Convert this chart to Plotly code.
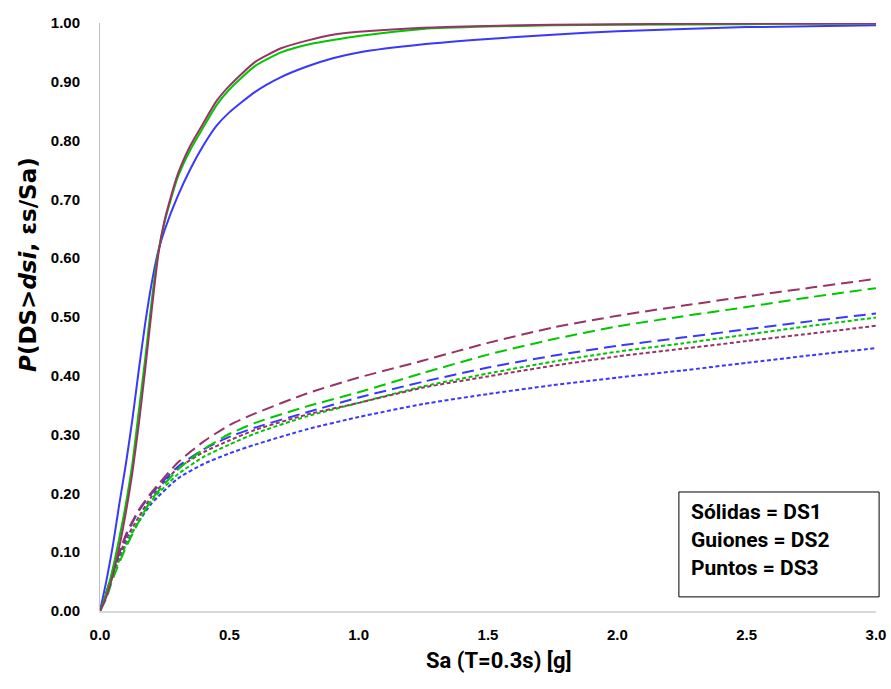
import plotly.graph_objects as go

# ---- data ----
x_ds1 = [0, 0.025, 0.05, 0.075, 0.1, 0.125, 0.15, 0.175, 0.2, 0.225, 0.25, 0.3, 0.35, 0.4,
         0.45, 0.5, 0.6, 0.7, 0.8, 0.9, 1.0, 1.25, 1.5, 1.75, 2.0, 2.5, 3.0]
blue_ds1 = [0, 0.052, 0.112, 0.183, 0.25, 0.325, 0.41, 0.49, 0.558, 0.612, 0.648, 0.705, 0.752,
            0.792, 0.825, 0.848, 0.883, 0.908, 0.926, 0.940, 0.950, 0.964, 0.973, 0.980, 0.986,
            0.993, 0.996]
green_ds1 = [0, 0.030, 0.073, 0.125, 0.182, 0.250, 0.340, 0.430, 0.528, 0.610, 0.662, 0.737,
             0.785, 0.823, 0.860, 0.887, 0.927, 0.950, 0.963, 0.971, 0.978, 0.990, 0.994, 0.996,
             0.997, 0.998, 0.999]
purple_ds1 = [0, 0.025, 0.062, 0.110, 0.168, 0.235, 0.318, 0.412, 0.512, 0.605, 0.665, 0.742,
              0.792, 0.830, 0.867, 0.893, 0.934, 0.957, 0.970, 0.980, 0.985, 0.992, 0.995, 0.997,
              0.998, 0.999, 0.999]

x_ds23 = [0, 0.025, 0.05, 0.1, 0.15, 0.2, 0.3, 0.4, 0.5, 0.6, 0.8, 1.0, 1.25, 1.5, 1.75,
          2.0, 2.25, 2.5, 2.75, 3.0]
purple_ds2 = [0, 0.032, 0.066, 0.130, 0.172, 0.202, 0.252, 0.288, 0.316, 0.336, 0.370, 0.397,
              0.426, 0.456, 0.482, 0.502, 0.519, 0.535, 0.550, 0.565]
green_ds2 = [0, 0.022, 0.055, 0.108, 0.152, 0.190, 0.240, 0.275, 0.301, 0.320, 0.348, 0.372,
             0.405, 0.436, 0.462, 0.484, 0.501, 0.517, 0.534, 0.549]
blue_ds2 = [0, 0.032, 0.067, 0.128, 0.170, 0.200, 0.245, 0.275, 0.296, 0.312, 0.338, 0.363,
            0.390, 0.414, 0.434, 0.451, 0.465, 0.479, 0.493, 0.506]
green_ds3 = [0, 0.028, 0.060, 0.112, 0.153, 0.188, 0.232, 0.262, 0.283, 0.302, 0.331, 0.354,
             0.382, 0.404, 0.424, 0.441, 0.455, 0.470, 0.485, 0.499]
purple_ds3 = [0, 0.030, 0.065, 0.122, 0.160, 0.195, 0.242, 0.270, 0.290, 0.308, 0.334, 0.354,
              0.380, 0.399, 0.417, 0.433, 0.446, 0.459, 0.472, 0.485]
blue_ds3 = [0, 0.030, 0.062, 0.115, 0.152, 0.183, 0.225, 0.250, 0.268, 0.283, 0.309, 0.330,
            0.352, 0.369, 0.384, 0.397, 0.409, 0.422, 0.435, 0.447]

x_ticks = [0, 0.5, 1.0, 1.5, 2.0, 2.5, 3.0]
y_ticks = [0, 0.1, 0.2, 0.3, 0.4, 0.5, 0.6, 0.7, 0.8, 0.9, 1.0]
legend_lines = ["Sólidas = DS1", "Guiones = DS2", "Puntos = DS3"]

BLUE = "#3838FF"
GREEN = "#00C800"
PURPLE = "#993366"
DASH = "12px,6px"
DOT = "4px,2.5px"

fig = go.Figure()

def add(x, y, color, dash):
    fig.add_trace(go.Scatter(x=x, y=y, mode="lines",
                             line=dict(color=color, width=2, dash=dash,
                                       shape="spline", smoothing=0.6),
                             showlegend=False, hoverinfo="skip"))

# dotted (DS3)
add(x_ds23, blue_ds3, BLUE, DOT)
add(x_ds23, green_ds3, GREEN, DOT)
add(x_ds23, purple_ds3, PURPLE, DOT)
# dashed (DS2)
add(x_ds23, blue_ds2, BLUE, DASH)
add(x_ds23, green_ds2, GREEN, DASH)
add(x_ds23, purple_ds2, PURPLE, DASH)
# solid (DS1)
add(x_ds1, blue_ds1, BLUE, "solid")
add(x_ds1, green_ds1, GREEN, "solid")
add(x_ds1, purple_ds1, PURPLE, "solid")

tickfont = dict(family="Liberation Sans, Arial, sans-serif", size=15, color="#000000",
                weight="bold")

fig.update_xaxes(range=[0, 3.0], tickvals=x_ticks, tickformat=".1f",
                 showgrid=False, zeroline=False, showline=True, linecolor="#D9D9D9",
                 linewidth=2, ticks="", tickfont=tickfont, ticklabelstandoff=9,
                 automargin=False)
fig.update_yaxes(range=[0, 1.0], tickvals=y_ticks, tickformat=".2f",
                 showgrid=False, zeroline=False, showline=True, linecolor="#BFBFBF",
                 linewidth=1, ticks="", tickfont=tickfont, ticklabelstandoff=16,
                 automargin=False)

# axis titles
fig.add_annotation(text="<b>Sa (T=0.3s) [g]</b>", xref="paper", yref="paper",
                   x=0.514, y=-0.085, xanchor="center", yanchor="middle", showarrow=False,
                   font=dict(family="Roboto, sans-serif", size=22, color="#000000"))
fig.add_annotation(text="<b><i>P</i>(DS><i>dsi</i>, εs/Sa)</b>", textangle=-90,
                   xref="paper", yref="paper", x=-0.093, y=0.59,
                   xanchor="center", yanchor="middle", showarrow=False,
                   font=dict(family="DejaVu Sans, sans-serif", size=23, color="#000000"))

# legend box
fig.add_shape(type="rect", xref="paper", yref="paper",
              x0=0.746, x1=1.004, y0=0.024, y1=0.2024,
              line=dict(color="#000000", width=1), fillcolor="white", layer="above")
for i, t in enumerate(legend_lines):
    fig.add_annotation(text="<b>" + t + "</b>", xref="paper", yref="paper",
                       x=0.759, y=0.168 - i * 0.0475, xanchor="left", yanchor="middle",
                       showarrow=False,
                       font=dict(family="Roboto, sans-serif", size=21, color="#000000"))

fig.update_layout(width=891, height=689, autosize=False,
                  margin=dict(l=100, r=15, t=23, b=78),
                  paper_bgcolor="white", plot_bgcolor="white")

fig.write_html("out.html")
